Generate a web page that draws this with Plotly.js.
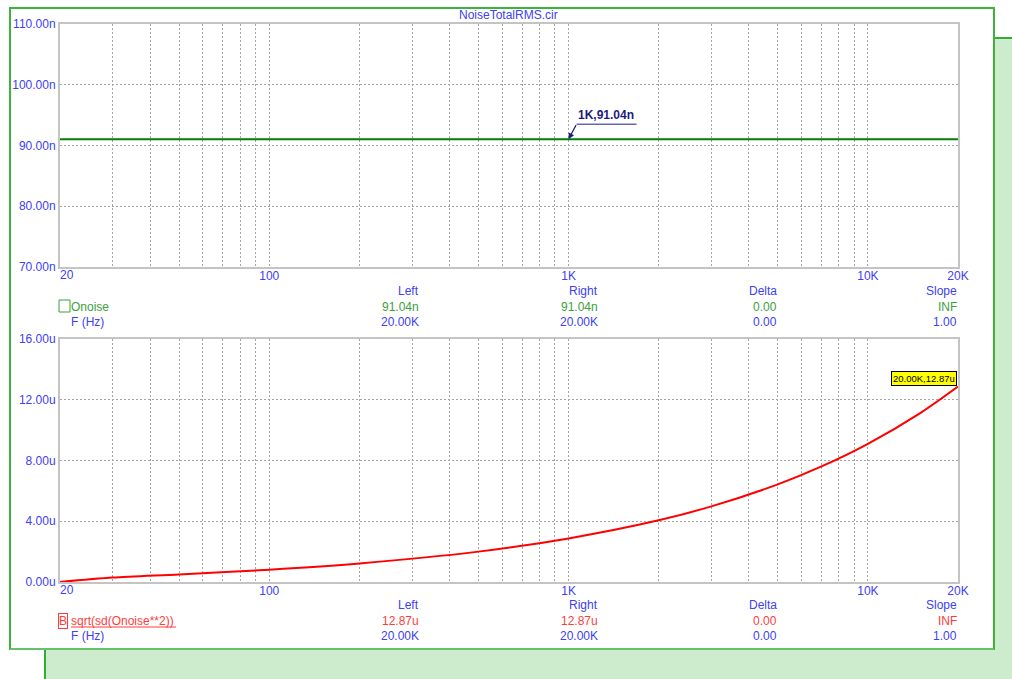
<!DOCTYPE html>
<html>
<head>
<meta charset="utf-8">
<script src="https://cdn.plot.ly/plotly-3.0.1.min.js"></script>
<style>
  html, body { margin: 0; padding: 0; background: #ffffff; width: 1012px; height: 679px; overflow: hidden; }
  #backPanel { position: absolute; left: 44px; top: 37px; width: 980px; height: 660px;
               background: #cdebcd; border-left: 2px solid #2fae2f; border-top: 2px solid #2fae2f; }
  #frontPanel { position: absolute; left: 9px; top: 7px; width: 982px; height: 639px;
                background: #ffffff; border: 2px solid #3cb43c; border-bottom-color: #66c266; }
  #chart { position: absolute; left: 0; top: 0; width: 1012px; height: 679px; }
</style>
</head>
<body>
<div id="backPanel"></div>
<div id="frontPanel"></div>
<div id="chart"></div>
<script>
// Noise analysis: output noise density and its integrated RMS value
const freqHz = [20, 30, 50, 100, 200, 500, 1000, 2000, 3000, 5000, 7000, 10000, 15000, 20000];
const totalNoiseRms_u = [0.00, 0.29, 0.50, 0.81, 1.22, 2.00, 2.87, 4.06, 4.98, 6.43, 7.61, 9.10, 11.14, 12.87];

const onoiseFreqHz = [20, 20000];
const onoise_n = [91.04, 91.04];

// the first frequency label sits left-aligned at the axis start, drawn separately
const xStartLabel = '20';
const xTickVals = [100, 1000, 10000, 20000];
const xTickText = ['100', '1K', '10K', '20K'];
const topTickVals = [70, 80, 90, 100, 110];
const topTickText = ['70.00n', '80.00n', '90.00n', '100.00n', '110.00n'];
const botTickVals = [0, 4, 8, 12, 16];
const botTickText = ['0.00u', '4.00u', '8.00u', '12.00u', '16.00u'];

// cursor readout tables
const readoutHeaders = ['Left', 'Right', 'Delta', 'Slope'];
const onoiseRow = ['91.04n', '91.04n', '0.00', 'INF'];
const rmsRow = ['12.87u', '12.87u', '0.00', 'INF'];
const freqRow = ['20.00K', '20.00K', '0.00', '1.00'];

const BLUE = '#4040f4';
const GREEN_T = '#3ca03c';
const RED_T = '#ff3c3c';
const FONT = 'Liberation Sans, Arial, sans-serif';

// plot area geometry in page pixels
const L = 60, T = 24, W = 898, H = 558;
const px = x => (x - L) / W;
const py = y => 1 - (y - T) / H;

// log-spaced minor grid positions (2..9 per decade)
const minorGrid = [];
for (let d = 10; d <= 10000; d *= 10) {
  for (let m = 2; m <= 9; m++) {
    const v = m * d;
    if (v > 20 && v < 20000) minorGrid.push(v);
  }
}

const gridStyle = { gridcolor: '#a4a4a4', griddash: '2px,2px', gridwidth: 1 };
const frame = { showline: true, mirror: true, linecolor: '#c4c4c4', linewidth: 2, zeroline: false };

function xAxis(anchor) {
  return Object.assign({
    type: 'log', range: [Math.log10(20), Math.log10(20000)], anchor: anchor,
    tickvals: xTickVals, ticktext: xTickText, ticks: '', ticklabelstandoff: -3,
    showgrid: true,
    minor: Object.assign({ tickvals: minorGrid, showgrid: true, ticks: '' }, gridStyle),
    tickfont: { family: FONT, size: 12, color: BLUE }, fixedrange: true
  }, gridStyle, frame);
}
function yAxis(domain, anchor, range, vals, text) {
  return Object.assign({
    domain: domain, anchor: anchor, range: range, tickvals: vals, ticktext: text,
    ticks: '', showgrid: true, ticklabelstandoff: 0,
    tickfont: { family: FONT, size: 12, color: BLUE }, fixedrange: true
  }, gridStyle, frame);
}

const traces = [
  { x: onoiseFreqHz, y: onoise_n, xaxis: 'x2', yaxis: 'y2', mode: 'lines',
    line: { color: '#008000', width: 2 }, hoverinfo: 'skip' },
  { x: freqHz, y: totalNoiseRms_u, xaxis: 'x', yaxis: 'y', mode: 'lines',
    line: { color: '#ff0000', width: 2, shape: 'spline', smoothing: 0.8 }, hoverinfo: 'skip' }
];

const annotations = [];
function txt(text, x, y, anchor, color, extra) {
  annotations.push(Object.assign({
    text: text, xref: 'paper', yref: 'paper', x: px(x), y: py(y),
    xanchor: anchor, yanchor: 'middle', showarrow: false,
    xshift: anchor === 'left' ? -2 : (anchor === 'right' ? 2 : 0),
    font: { family: FONT, size: 12, color: color }
  }, extra || {}));
}

txt('NoiseTotalRMS.cir', 508, 15, 'center', BLUE);

// start-of-axis frequency label under each plot
[['x2', 275], ['x', 590]].forEach(([xr, yPix]) => {
  annotations.push({
    text: xStartLabel, xref: xr, yref: 'paper', x: Math.log10(onoiseFreqHz[0]), y: py(yPix),
    xanchor: 'left', yanchor: 'middle', showarrow: false, xshift: -1, borderpad: 0,
    font: { family: FONT, size: 12, color: BLUE }
  });
});

const colRight = [419, 598, 777, 957];
function readout(y0, seriesRow, seriesColor) {
  readoutHeaders.forEach((h, i) => txt(h, colRight[i], y0, 'right', BLUE));
  seriesRow.forEach((v, i) => txt(v, colRight[i], y0 + 15.5, 'right', seriesColor));
  freqRow.forEach((v, i) => txt(v, colRight[i], y0 + 31, 'right', BLUE));
  txt('F (Hz)', 71, y0 + 31, 'left', BLUE);
}
readout(291, onoiseRow, GREEN_T);
readout(605, rmsRow, RED_T);

txt('Onoise', 71, 306.5, 'left', GREEN_T);
txt('B', 59, 620.5, 'left', RED_T, { bordercolor: RED_T, borderwidth: 1, borderpad: 0, xshift: -1 });
txt('sqrt(sd(Onoise**2))', 71, 620.5, 'left', RED_T);

// cursor marker on the density trace
annotations.push({
  xref: 'x2', yref: 'y2', x: Math.log10(1000), y: onoise_n[0],
  text: ' ', font: { size: 1 }, borderpad: 0,
  showarrow: true, ax: 8, ay: -15, arrowhead: 2, arrowsize: 1, arrowwidth: 1.2,
  arrowcolor: '#1c1c80'
});
annotations.push({
  xref: 'x2', yref: 'y2', x: Math.log10(1000), y: onoise_n[0],
  text: '<b>1K,91.04n</b>', xanchor: 'left', yanchor: 'bottom', xshift: 7, yshift: 15,
  showarrow: false, font: { family: FONT, size: 12, color: '#1c1c80' }
});

// end-point tag on the integrated trace
annotations.push({
  xref: 'x', yref: 'y', x: Math.log10(freqHz[freqHz.length - 1]), y: totalNoiseRms_u[totalNoiseRms_u.length - 1],
  text: '20.00K,12.87u', xanchor: 'right', yanchor: 'bottom', yshift: 1, xshift: -1,
  showarrow: false, bgcolor: '#ffff00', bordercolor: '#000000', borderwidth: 1, borderpad: 1,
  font: { family: FONT, size: 9.5, color: '#000000' }
});

const shapes = [
  // legend swatch for Onoise
  { type: 'rect', xref: 'paper', yref: 'paper', x0: px(59), x1: px(70), y0: py(312), y1: py(300),
    line: { color: '#3ca03c', width: 1 } },
  // underline of the expression label
  { type: 'line', xref: 'paper', yref: 'paper', x0: px(71), x1: px(176), y0: py(627), y1: py(627),
    line: { color: RED_T, width: 1 } },
  // underline of the cursor label
  { type: 'line', xref: 'x2', yref: 'y2', xsizemode: 'pixel', ysizemode: 'pixel',
    xanchor: 1000, yanchor: onoise_n[0], x0: 8, x1: 68, y0: 15, y1: 15,
    line: { color: '#1c1c80', width: 1 } }
];

const layout = {
  width: 1012, height: 679,
  margin: { l: L, r: 1012 - L - W, t: T, b: 679 - T - H, pad: 0 },
  paper_bgcolor: 'rgba(0,0,0,0)', plot_bgcolor: '#ffffff',
  showlegend: false,
  xaxis: xAxis('y'),
  xaxis2: xAxis('y2'),
  yaxis: yAxis([0, 243 / H], 'x', [0, 16], botTickVals, botTickText),
  yaxis2: yAxis([1 - 243 / H, 1], 'x2', [70, 110], topTickVals, topTickText),
  annotations: annotations,
  shapes: shapes
};

Plotly.newPlot('chart', traces, layout, { staticPlot: true, displayModeBar: false });
</script>
</body>
</html>
